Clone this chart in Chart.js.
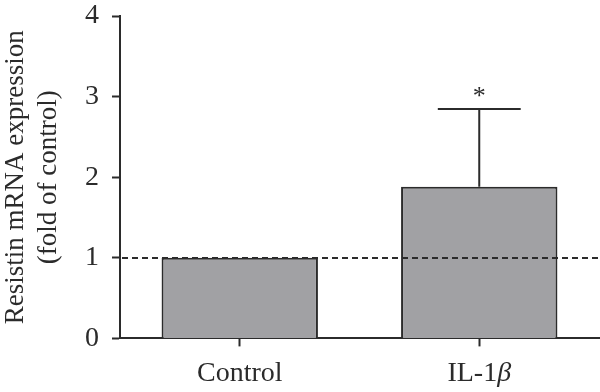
<!DOCTYPE html>
<html>
<head>
<meta charset="utf-8">
<script src="https://cdn.jsdelivr.net/npm/chart.js@4"></script>
<style>
  html, body { margin: 0; padding: 0; background: #fff; }
  #wrap { width: 600px; height: 392px; }
</style>
</head>
<body>
<div id="wrap"><canvas id="barResistin"></canvas></div>
<script>
// data
const groups = ['Control', 'IL-1\u03B2'];
const foldValues = [1.0, 1.88];
const errUpper = [0, 0.97];
const sigMarks = ['', '*'];
const yTicks = [0, 1, 2, 3, 4];
const refLevel = 1;

const INK = '#2b2b2b';
const FONT = "'Liberation Serif', 'DejaVu Serif', serif";
const TICK_SIZE = 28;

/**
 * Error bars, significance stars and the dashed reference line
 */
const extrasPlugin = {
  id: 'extrasPlugin',
  afterDatasetsDraw(chart) {
    const ctx = chart.ctx;
    const meta = chart.getDatasetMeta(0);
    const yScale = chart.scales.y;
    const area = chart.chartArea;

    ctx.save();
    meta.data.forEach((bar, i) => {
      if (!errUpper[i]) return;
      const top = Math.round(yScale.getPixelForValue(foldValues[i] + errUpper[i]));
      const capHalf = bar.width * 0.265;
      ctx.strokeStyle = INK;
      ctx.lineWidth = 2;
      ctx.beginPath();
      ctx.moveTo(bar.x, bar.y);
      ctx.lineTo(bar.x, top);
      ctx.moveTo(bar.x - capHalf, top);
      ctx.lineTo(bar.x + capHalf, top);
      ctx.stroke();

      if (sigMarks[i]) {
        ctx.fillStyle = INK;
        ctx.font = "26px " + FONT;
        ctx.textAlign = 'center';
        ctx.textBaseline = 'alphabetic';
        ctx.fillText(sigMarks[i], bar.x, top - 5);
      }
    });

    // dashed line at fold = 1
    const yRef = Math.round(yScale.getPixelForValue(refLevel));
    ctx.strokeStyle = INK;
    ctx.lineWidth = 2;
    ctx.setLineDash([6, 4]);
    ctx.beginPath();
    ctx.moveTo(area.left + 2, yRef);
    ctx.lineTo(chart.width, yRef);
    ctx.stroke();
    ctx.restore();
  },
  // category labels, greek letters set in italic
  afterDraw(chart) {
    const ctx = chart.ctx;
    const xScale = chart.scales.x;
    const baseY = xScale.top + 43;

    ctx.save();
    ctx.fillStyle = INK;
    ctx.textBaseline = 'alphabetic';
    groups.forEach((label, i) => {
      const parts = label.split(/([\u0370-\u03FF]+)/).filter(p => p);
      const fonts = parts.map(p => (/[\u0370-\u03FF]/.test(p) ? 'italic ' : '') + TICK_SIZE + 'px ' + FONT);
      let total = 0;
      const widths = parts.map((p, k) => {
        ctx.font = fonts[k];
        const w = ctx.measureText(p).width;
        total += w;
        return w;
      });
      let x = xScale.getPixelForTick(i) - total / 2;
      ctx.textAlign = 'left';
      parts.forEach((p, k) => {
        ctx.font = fonts[k];
        ctx.fillText(p, x, baseY);
        x += widths[k];
      });
    });
    ctx.restore();
  }
};

new Chart(document.getElementById('barResistin'), {
  type: 'bar',
  data: {
    labels: groups,
    datasets: [{
      data: foldValues,
      backgroundColor: '#a1a1a4',
      borderColor: INK,
      borderWidth: 2,
      barPercentage: 0.653,
      categoryPercentage: 1.0
    }]
  },
  options: {
    responsive: true,
    maintainAspectRatio: false,
    animation: false,
    layout: { padding: { top: 16, right: 1, bottom: -4, left: 0 } },
    plugins: {
      legend: { display: false },
      tooltip: { enabled: false }
    },
    scales: {
      x: {
        grid: {
          offset: false,
          drawOnChartArea: false,
          tickLength: 8,
          tickWidth: 2,
          tickColor: INK
        },
        border: { color: INK, width: 2 },
        ticks: {
          color: 'rgba(0,0,0,0)',
          padding: 8,
          font: { family: FONT, size: TICK_SIZE }
        }
      },
      y: {
        min: yTicks[0],
        max: yTicks[yTicks.length - 1],
        afterBuildTicks: axis => {
          axis.ticks = yTicks.map(v => ({ value: v }));
        },
        afterFit: axis => {
          // axis line sits at x = 120, top tick flush with the padding
          axis.width = 120;
          axis.paddingTop = 0;
          axis.paddingBottom = 0;
        },
        grid: {
          drawOnChartArea: false,
          tickLength: 8,
          tickWidth: 2,
          tickColor: INK
        },
        border: { color: INK, width: 2 },
        ticks: {
          color: INK,
          padding: 13,
          font: { family: FONT, size: TICK_SIZE }
        },
        title: {
          display: true,
          text: ['Resistin mRNA expression', '(fold of control)'],
          color: INK,
          padding: { top: 0, bottom: 14 },
          font: { family: FONT, size: 27, lineHeight: 1.2 }
        }
      }
    }
  },
  plugins: [extrasPlugin]
});
</script>
</body>
</html>
